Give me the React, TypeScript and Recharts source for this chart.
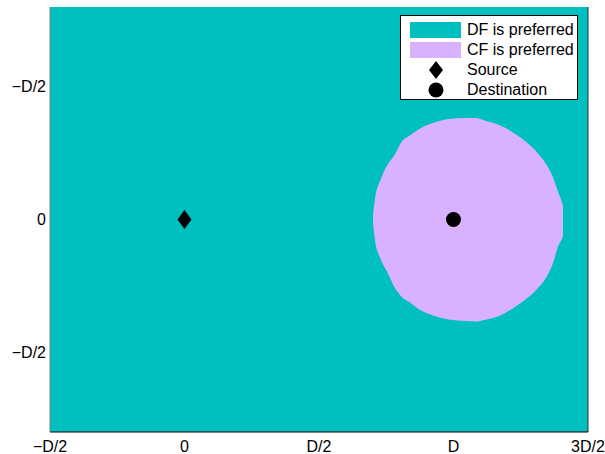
import {
  ComposedChart,
  Area,
  Scatter,
  XAxis,
  YAxis,
  CartesianGrid,
  Legend,
  ReferenceLine,
} from 'recharts';

// x positions in units of D
const xTicks = [-0.5, 0, 0.5, 1, 1.5];
const xTickLabels = ['\u2212D/2', '0', 'D/2', 'D', '3D/2'];
const yTicks = [0.5, 0, -0.5];
const yTickLabels = ['\u2212D/2', '0', '\u2212D/2'];

// outline of the region where CF is preferred (top / bottom edge per x)
const cfX = [0.701, 0.709, 0.728, 0.754, 0.783, 0.806, 0.839, 0.876, 0.921, 0.981, 1.044, 1.081, 1.118, 1.174, 1.23, 1.278, 1.315, 1.349, 1.371, 1.39, 1.399, 1.407];
const cfTop = [0.02, 0.085, 0.147, 0.205, 0.247, 0.291, 0.317, 0.343, 0.362, 0.378, 0.382, 0.382, 0.372, 0.354, 0.322, 0.285, 0.248, 0.201, 0.156, 0.101, 0.077, 0.052];
const cfBottom = [-0.02, -0.084, -0.146, -0.199, -0.259, -0.29, -0.313, -0.341, -0.36, -0.376, -0.382, -0.384, -0.377, -0.361, -0.328, -0.293, -0.257, -0.211, -0.161, -0.098, -0.081, -0.064];

const source = [{ x: 0, y: 0 }];
const destination = [{ x: 1, y: 0 }];

const TEAL = '#00BFBF';
const LAVENDER = '#D9B2FF';
const FONT = '"Liberation Sans", Arial, sans-serif';

const cfData = cfX.map((x, i) => ({ x, range: [cfBottom[i], cfTop[i]] }));

const Diamond = (props: any) => {
  const { cx, cy } = props;
  return <polygon points={`${cx},${cy - 9.5} ${cx + 7},${cy} ${cx},${cy + 9.5} ${cx - 7},${cy}`} fill="#000" />;
};

const Dot = (props: any) => <circle cx={props.cx} cy={props.cy} r={7.5} fill="#000" />;

const legendItems = [
  { label: 'DF is preferred', kind: 'rect', color: TEAL },
  { label: 'CF is preferred', kind: 'rect', color: LAVENDER },
  { label: 'Source', kind: 'diamond', color: '#000' },
  { label: 'Destination', kind: 'circle', color: '#000' },
];

function LegendBox() {
  return (
    <div
      style={{
        width: 178,
        height: 85,
        background: '#fff',
        border: '1px solid #000',
        fontFamily: FONT,
        fontSize: 16,
        color: '#000',
        boxSizing: 'border-box',
        paddingTop: 4,
      }}
    >
      {legendItems.map((item) => (
        <div key={item.label} style={{ display: 'flex', alignItems: 'center', height: 20, lineHeight: '20px' }}>
          <svg width={66} height={20} style={{ flex: 'none' }}>
            {item.kind === 'rect' && <rect x={9} y={2} width={51} height={16} fill={item.color} />}
            {item.kind === 'diamond' && <polygon points="35,1 42,10 35,19 28,10" fill="#000" />}
            {item.kind === 'circle' && <circle cx={35} cy={10} r={7.5} fill="#000" />}
          </svg>
          <span>{item.label}</span>
        </div>
      ))}
    </div>
  );
}

export default function App() {
  return (
    <div style={{ position: 'absolute', left: 0, top: 0, width: 605, height: 454, background: '#fff' }}>
      <ComposedChart
        width={605}
        height={454}
        data={cfData}
        margin={{ top: 7, right: 17, bottom: 0, left: 0 }}
      >
        <CartesianGrid fill={TEAL} stroke="none" horizontal={false} vertical={false} />
        <XAxis
          type="number"
          dataKey="x"
          domain={[-0.5, 1.5]}
          ticks={xTicks}
          tickFormatter={(v) => xTickLabels[xTicks.indexOf(v)]}
          allowDataOverflow
          height={22}
          tickLine={false}
          tickSize={0}
          tickMargin={9}
          axisLine={{ stroke: '#000' }}
          tick={{ fill: '#000', fontSize: 16, fontFamily: FONT }}
        />
        <YAxis
          type="number"
          domain={[-0.8, 0.8]}
          ticks={yTicks}
          tickFormatter={(v) => yTickLabels[yTicks.indexOf(v)]}
          allowDataOverflow
          width={50}
          tickLine={false}
          tickSize={0}
          tickMargin={4}
          axisLine={{ stroke: '#808080' }}
          tick={{ fill: '#000', fontSize: 16, fontFamily: FONT }}
        />
        <ReferenceLine x={1.5} stroke="#333" />
        <Area
          type="monotone"
          dataKey="range"
          fill={LAVENDER}
          fillOpacity={1}
          stroke="none"
          isAnimationActive={false}
        />
        <Scatter data={source} dataKey="y" shape={Diamond} isAnimationActive={false} />
        <Scatter data={destination} dataKey="y" shape={Dot} isAnimationActive={false} />
        <Legend
          layout="vertical"
          align="center"
          verticalAlign="middle"
          content={() => <LegendBox />}
          wrapperStyle={{ top: 15, left: 400, width: 178, height: 85 }}
        />
      </ComposedChart>
    </div>
  );
}
